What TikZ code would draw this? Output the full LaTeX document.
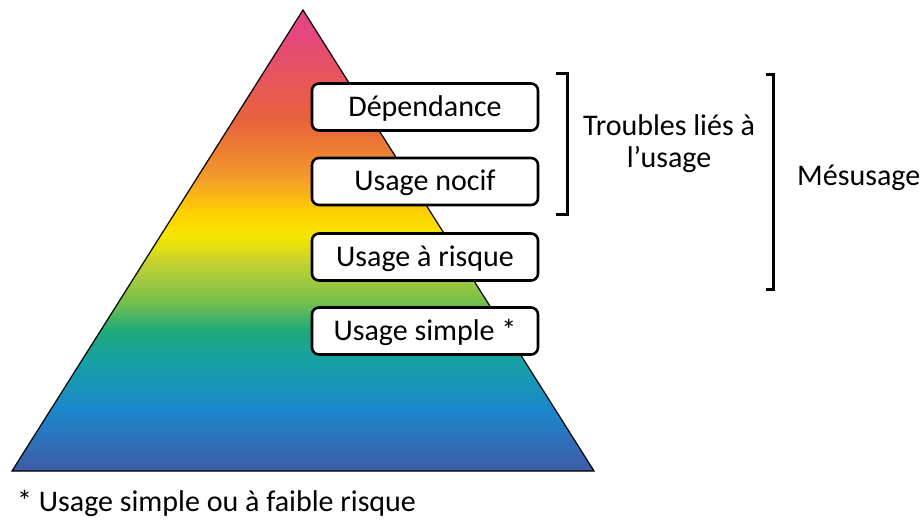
\documentclass[tikz,border=0pt]{standalone}
\usepackage{fontspec}
\setmainfont{Carlito}
\definecolor{pkA}{HTML}{E5408F}
\definecolor{orA}{HTML}{E8643A}
\definecolor{orB}{HTML}{F39A2B}
\definecolor{ylA}{HTML}{FFD200}
\definecolor{ylB}{HTML}{F5E600}
\definecolor{ygA}{HTML}{C4D230}
\definecolor{grA}{HTML}{72BE4E}
\definecolor{grB}{HTML}{1FA97A}
\definecolor{tlA}{HTML}{15A0A8}
\definecolor{blA}{HTML}{1C87CC}
\definecolor{blB}{HTML}{3F5AA6}
% rainbow fill of the pyramid, bottom (25bp) to top (75bp)
\pgfdeclareverticalshading{pyramidfill}{100bp}{%
  color(0bp)=(blB); color(25bp)=(blB); color(31.6bp)=(blA);
  color(36.7bp)=(tlA); color(40.3bp)=(grB); color(43.2bp)=(grA);
  color(47.6bp)=(ygA); color(50.4bp)=(ylB); color(53bp)=(ylA);
  color(56.9bp)=(orB); color(62.7bp)=(orA); color(75bp)=(pkA);
  color(100bp)=(pkA)}
\tikzset{
  levelbox/.style={draw=black, line width=2.6pt, rounded corners=7pt, fill=white,
    minimum width=226pt, minimum height=47pt, inner sep=0pt},
  bracketline/.style={line width=3pt},
  txt/.style={inner sep=0pt, font=\fontsize{30}{35}\selectfont}
}
\begin{document}
\begin{tikzpicture}[x=1pt,y=-1pt]
\useasboundingbox (0,0) rectangle (922,520);
% pyramid
\coordinate (apex) at (303,10);
\coordinate (bl) at (12,471);
\coordinate (br) at (594,471);
\path[shading=pyramidfill, draw=black, line width=1.2pt, line join=miter] (apex) -- (br) -- (bl) -- cycle;
% level boxes
\node[levelbox] (dep) at (425,107) {};
\node[levelbox] (noc) at (425,181.5) {};
\node[levelbox] (ris) at (425,257) {};
\node[levelbox] (sim) at (425,331) {};
% level captions, set a little below the box centres
\node[txt] (deptxt) at ([yshift=-1.5pt]dep.center) {Dépendance};
\node[txt] (noctxt) at ([yshift=-1.5pt]noc.center) {Usage nocif};
\node[txt] (ristxt) at ([yshift=-1.5pt]ris.center) {Usage à risque};
\node[txt] (simtxt) at ([yshift=-1.5pt]sim.center) {Usage simple *};
% brackets
\coordinate (b1t) at (556,73);
\coordinate (b1b) at (556,214);
\draw[bracketline] (b1t) -- ++(11,0) |- (b1b);
\coordinate (b2t) at (766,74);
\coordinate (b2b) at (766,289);
\draw[bracketline] (b2t) -- ++(7,0) |- (b2b);
% labels
\node[txt] (tr1) at (669,125) {Troubles liés à};
\node[txt] (tr2) at (669,159) {l’usage};
\node[txt, anchor=west] (mes) at (797,178) {Mésusage};
\node[txt, anchor=west] (note) at (17,503) {* Usage simple ou à faible risque};
\end{tikzpicture}
\end{document}
